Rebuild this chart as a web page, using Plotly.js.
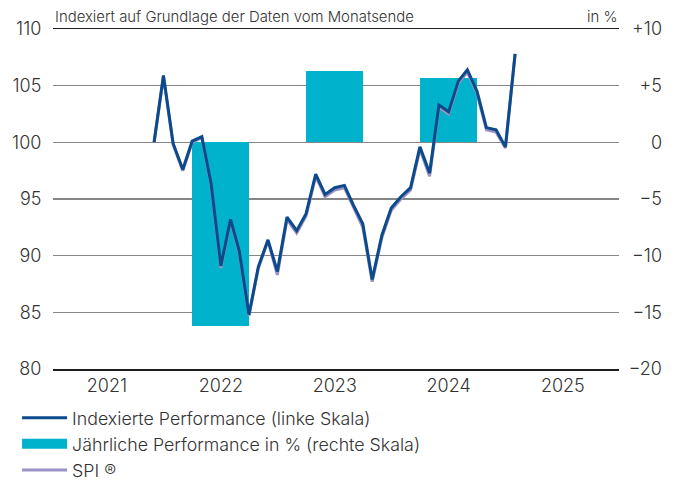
<!DOCTYPE html>
<html>
<head>
<meta charset="utf-8">
<script src="https://cdn.plot.ly/plotly-3.0.1.min.js"></script>
<style>html,body{margin:0;padding:0;background:#fff;}#chart{width:675px;height:482px;}</style>
</head>
<body>
<div id="chart"></div>
<script>
// Monthly dates (month start) for the indexed series
const months = [
  "2021-06-01","2021-07-01","2021-08-01","2021-09-01","2021-10-01","2021-11-01","2021-12-01",
  "2022-01-01","2022-02-01","2022-03-01","2022-04-01","2022-05-01","2022-06-01","2022-07-01","2022-08-01","2022-09-01","2022-10-01","2022-11-01","2022-12-01",
  "2023-01-01","2023-02-01","2023-03-01","2023-04-01","2023-05-01","2023-06-01","2023-07-01","2023-08-01","2023-09-01","2023-10-01","2023-11-01","2023-12-01",
  "2024-01-01","2024-02-01","2024-03-01","2024-04-01","2024-05-01","2024-06-01","2024-07-01","2024-08-01"
];
const indexedPerf = [
  100.0, 105.9, 99.9, 97.6, 100.1, 100.5, 96.3,
  89.1, 93.2, 90.4, 84.8, 89.0, 91.4, 88.6, 93.4, 92.2, 93.7, 97.2, 95.4,
  96.0, 96.2, 94.5, 92.8, 87.9, 91.8, 94.2, 95.2, 96.0, 99.6, 97.3, 103.3,
  102.7, 105.4, 106.4, 104.5, 101.3, 101.1, 99.6, 107.8
];
const spi = [
  100.0, 105.8, 99.8, 97.5, 100.0, 100.4, 96.1,
  88.9, 93.1, 90.2, 84.7, 88.9, 91.3, 88.3, 93.2, 92.0, 93.5, 97.0, 95.2,
  95.8, 96.0, 94.3, 92.5, 87.7, 91.6, 94.0, 95.0, 95.8, 99.4, 97.0, 103.1,
  102.5, 105.2, 106.2, 104.3, 101.1, 100.9, 99.5, 107.8
];
// Annual performance in %
const years = ["2022-01-01","2023-01-01","2024-01-01"];
const annualPerf = [-16.2, 6.3, 5.7];
// Axis ticks
const xTickVals = ["2021-01-01","2022-01-01","2023-01-01","2024-01-01","2025-01-01"];
const xTickText = ["2021","2022","2023","2024","2025"];
const leftTickVals = [80,85,90,95,100,105,110];
const rightTickVals = [-20,-15,-10,-5,0,5,10];
const rightTickText = ["\u221220","\u221215","\u221210","\u22125","0","+5","+10"];

const FONT = "Inter, 'Liberation Sans', Arial, sans-serif";
const TXT = "#333333";
const CYAN = "#00b2cb";
const barWidthMs = 182*24*3600*1000;
const tickFont = {family: FONT, size: 18, color: TXT, weight: 300};

const traces = [
  {
    type: "bar", x: years, y: annualPerf, yaxis: "y", xaxis: "x",
    width: years.map(()=>barWidthMs),
    marker: {color: CYAN, line: {width: 0}},
    name: "Jährliche Performance in % (rechte Skala)", showlegend: false,
    hoverinfo: "skip"
  },
  {
    // legend entry for the annual bars (wide block symbol)
    type: "scatter", mode: "lines", x: [null], y: [null], yaxis: "y", xaxis: "x",
    line: {color: CYAN, width: 12},
    name: "Jährliche Performance in % (rechte Skala)", legendrank: 2, hoverinfo: "skip"
  },
  {
    type: "scatter", mode: "lines", x: months, y: spi, yaxis: "y2", xaxis: "x",
    line: {color: "#9a92c2", width: 3},
    name: "SPI ®", legendrank: 3, hoverinfo: "skip"
  },
  {
    type: "scatter", mode: "lines", x: months, y: indexedPerf, yaxis: "y2", xaxis: "x",
    line: {color: "#0d4a8c", width: 3},
    name: "Indexierte Performance (linke Skala)", legendrank: 1, hoverinfo: "skip"
  }
];

const layout = {
  width: 675, height: 482,
  margin: {l: 53, r: 13, t: 29, b: 113, pad: 0, autoexpand: false},
  paper_bgcolor: "#ffffff", plot_bgcolor: "#ffffff",
  font: {family: FONT, size: 18, color: TXT, weight: 300},
  showlegend: true,
  bargap: 0,
  xaxis: {
    type: "date", domain: [0, 566/609],
    range: ["2020-07-12", "2025-06-30"],
    tickmode: "array", tickvals: xTickVals, ticktext: xTickText,
    showgrid: false, zeroline: false,
    showline: true, mirror: true, linecolor: "#1e1e1e", linewidth: 1.5,
    ticks: "", tickfont: tickFont
  },
  yaxis: {
    range: [-20, 10], side: "left", anchor: "free", position: 1,
    tickmode: "array", tickvals: rightTickVals, ticktext: rightTickText,
    showgrid: false, zeroline: false, showline: false,
    ticks: "", tickfont: tickFont
  },
  yaxis2: {
    range: [80, 110], overlaying: "y", side: "left", anchor: "x",
    tickmode: "array", tickvals: leftTickVals,
    showgrid: true, gridcolor: "#868686", gridwidth: 1.5,
    zeroline: false, showline: false,
    ticks: "outside", ticklen: 7, tickcolor: "rgba(0,0,0,0)",
    tickfont: tickFont
  },
  shapes: [
    {type: "line", xref: "x domain", yref: "y2", x0: 0, x1: 1, y0: 95, y1: 95,
     line: {color: "#1e1e1e", width: 1.3}, layer: "below"}
  ],
  annotations: [
    {text: "Indexiert auf Grundlage der Daten vom Monatsende", xref: "paper", yref: "paper",
     x: 0, y: 1.003, xanchor: "left", yanchor: "bottom", showarrow: false,
     font: {family: FONT, size: 14.9, color: TXT, weight: 300}},
    {text: "in %", xref: "paper", yref: "paper",
     x: 566/609, y: 1.003, xanchor: "right", yanchor: "bottom", showarrow: false,
     font: {family: FONT, size: 14.9, color: TXT, weight: 300}}
  ],
  legend: {
    orientation: "v", x: -0.059, xanchor: "left", y: -0.09, yanchor: "top",
    font: {family: FONT, size: 17.8, color: TXT, weight: 300},
    itemwidth: 45, tracegroupgap: 0, bgcolor: "rgba(0,0,0,0)", borderwidth: 0,
    traceorder: "normal"
  }
};

Plotly.newPlot("chart", traces, layout, {displayModeBar: false, staticPlot: true});
</script>
</body>
</html>
